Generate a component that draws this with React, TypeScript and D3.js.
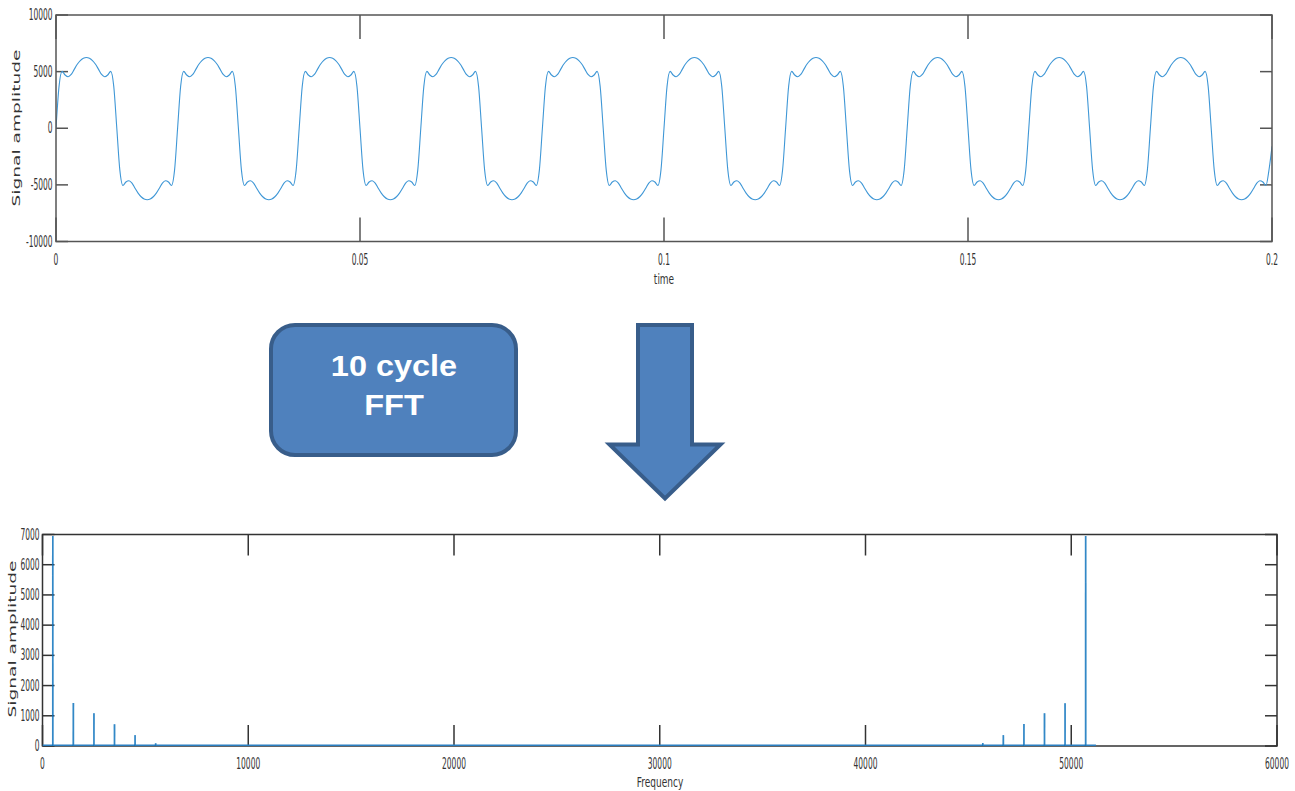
import React from "react";
import * as d3 from "d3";

// ---------- DATA ----------
// one period (20 ms) of the signal, sampled every 0.5 ms (values read from the picture)
const cycleStep = 0.0005;
const cycleValues = [
  0, 3700, 5020, 4700, 4550, 4750, 5200, 5650, 5980, 6180,
  6250, 6180, 5980, 5650, 5200, 4750, 4550, 4700, 5020, 3700,
  0, -3700, -5050, -4750, -4640, -4850, -5300, -5730, -6050, -6250,
  -6310, -6250, -6050, -5730, -5300, -4850, -4640, -4750, -5050, -3700,
];
const cycleCount = 10;
const endTime = 0.2;
const endValue = -1600;

const timeTicks = [0, 0.05, 0.1, 0.15, 0.2];
const timeTickLabels = ["0", "0.05", "0.1", "0.15", "0.2"];
const ampTicks = [-10000, -5000, 0, 5000, 10000];

// FFT magnitude spectrum (bin index vs amplitude)
const specFreq = [
  0, 498, 499, 500, 501,
  1498, 1500, 1502,
  2498, 2500, 2502,
  3498, 3500, 3502,
  4498, 4500, 4502,
  5498, 5500, 5502,
  45698, 45700, 45702,
  46698, 46700, 46702,
  47698, 47700, 47702,
  48698, 48700, 48702,
  49698, 49700, 49702,
  50699, 50700, 50701, 50702,
  51200,
];
const specAmp = [
  0, 0, 5650, 6950, 0,
  0, 1420, 0,
  0, 1080, 0,
  0, 720, 0,
  0, 360, 0,
  0, 90, 0,
  0, 100, 0,
  0, 360, 0,
  0, 730, 0,
  0, 1085, 0,
  0, 1415, 0,
  0, 6950, 5400, 0,
  0,
];
const freqTicks = [0, 10000, 20000, 30000, 40000, 50000, 60000];
const specAmpTicks = [0, 1000, 2000, 3000, 4000, 5000, 6000, 7000];

// ---------- LAYOUT ----------
const W = 1295;
const H = 791;
const top = { x0: 56, x1: 1272, y0: 15, y1: 241.5 };
const bot = { x0: 42.5, x1: 1277, y0: 534.5, y1: 746 };

const tickFont = "DejaVu Sans, Verdana, sans-serif";
const textCol = "#333";

function HText({ x, y, children, anchor = "middle", size = 15, sx = 0.5 }: any) {
  return (
    <text
      transform={`translate(${x},${y}) scale(${sx},1)`}
      textAnchor={anchor}
      dominantBaseline="central"
      fontFamily={tickFont}
      fontSize={size}
      fill={textCol}
    >
      {children}
    </text>
  );
}

function VLabel({ x, y, children }: any) {
  return (
    <text
      transform={`translate(${x},${y}) rotate(-90) scale(1,0.52)`}
      textAnchor="middle"
      dominantBaseline="central"
      fontFamily={tickFont}
      fontSize={18.6}
      fill={textCol}
    >
      {children}
    </text>
  );
}

export default function App() {
  // --- top signal ---
  const sigPoints: [number, number][] = [];
  for (let c = 0; c < cycleCount; c++) {
    cycleValues.forEach((v, i) => {
      sigPoints.push([c * cycleValues.length * cycleStep + i * cycleStep, v]);
    });
  }
  sigPoints.push([endTime, endValue]);

  const xT = d3.scaleLinear().domain([0, 0.2]).range([top.x0, top.x1]);
  const yT = d3.scaleLinear().domain([-10000, 10000]).range([top.y1, top.y0]);
  const sigLine = d3
    .line<[number, number]>()
    .x((d) => xT(d[0]))
    .y((d) => yT(d[1]))
    .curve(d3.curveMonotoneX);

  // --- bottom spectrum ---
  const xB = d3.scaleLinear().domain([0, 60000]).range([bot.x0, bot.x1]);
  const yB = d3.scaleLinear().domain([0, 7000]).range([bot.y1, bot.y0]);
  const specPts: [number, number][] = specFreq.map((f, i) => [f, specAmp[i]]);
  const segs = d3.pairs(specPts);

  const topAxisCol = "#555";
  const botAxisCol = "#333";

  return (
    <svg
      width={W}
      height={H}
      style={{ position: "absolute", left: 0, top: 0, background: "#fff" }}
    >
      <defs>
        <clipPath id="clipTop">
          <rect x={top.x0} y={top.y0} width={top.x1 - top.x0} height={top.y1 - top.y0} />
        </clipPath>
        <clipPath id="clipBot">
          <rect x={bot.x0} y={bot.y0 - 1} width={bot.x1 - bot.x0} height={bot.y1 - bot.y0 + 1} />
        </clipPath>
      </defs>
      <rect x={0} y={0} width={W} height={H} fill="#fff" />

      {/* ===== TOP CHART ===== */}
      <g>
        {timeTicks.map((t, i) => (
          <g key={"tx" + i}>
            <line x1={xT(t)} x2={xT(t)} y1={top.y0} y2={top.y0 + 24} stroke={topAxisCol} strokeWidth={1.5} />
            <line x1={xT(t)} x2={xT(t)} y1={top.y1} y2={top.y1 - 24} stroke={topAxisCol} strokeWidth={1.5} />
            <HText x={xT(t)} y={top.y1 + 18.5}>{timeTickLabels[i]}</HText>
          </g>
        ))}
        {ampTicks.map((v, i) => (
          <g key={"ty" + i}>
            <line x1={top.x0} x2={top.x0 + 12} y1={yT(v)} y2={yT(v)} stroke={topAxisCol} strokeWidth={1.5} />
            <line x1={top.x1} x2={top.x1 - 12} y1={yT(v)} y2={yT(v)} stroke={topAxisCol} strokeWidth={1.5} />
            <HText x={top.x0 - 3.5} y={yT(v)} anchor="end">{String(v)}</HText>
          </g>
        ))}
        <path d={sigLine(sigPoints) || ""} fill="none" stroke="#3f97d6" strokeWidth={1.1} clipPath="url(#clipTop)" />
        <rect
          x={top.x0}
          y={top.y0}
          width={top.x1 - top.x0}
          height={top.y1 - top.y0}
          fill="none"
          stroke={topAxisCol}
          strokeWidth={1.5}
        />
        <HText x={664} y={279} sx={0.62} size={14.5}>time</HText>
        <VLabel x={16} y={128}>Signal amplitude</VLabel>
      </g>

      {/* ===== BOX + ARROW ===== */}
      <rect x={271} y={325} width={245} height={130} rx={24} ry={24} fill="#4f81bd" stroke="#385d8a" strokeWidth={4} />
      <text
        transform="translate(394,375.5) scale(1.12,1)"
        textAnchor="middle"
        fontFamily="Liberation Sans, Arial, sans-serif"
        fontWeight="bold"
        fontSize={29}
        fill="#fff"
      >
        10 cycle
      </text>
      <text
        transform="translate(394,415) scale(1.12,1)"
        textAnchor="middle"
        fontFamily="Liberation Sans, Arial, sans-serif"
        fontWeight="bold"
        fontSize={29}
        fill="#fff"
      >
        FFT
      </text>
      <path
        d="M638,325 L692,325 L692,444.5 L720.5,444.5 L665,498.5 L609.5,444.5 L638,444.5 Z"
        fill="#4f81bd"
        stroke="#385d8a"
        strokeWidth={4}
        strokeLinejoin="miter"
      />

      {/* ===== BOTTOM CHART ===== */}
      <g>
        {freqTicks.map((f, i) => (
          <g key={"bx" + i}>
            <line x1={xB(f)} x2={xB(f)} y1={bot.y0} y2={bot.y0 + 21} stroke={botAxisCol} strokeWidth={1.5} />
            <line x1={xB(f)} x2={xB(f)} y1={bot.y1} y2={bot.y1 - 21} stroke={botAxisCol} strokeWidth={1.5} />
            <HText x={xB(f)} y={bot.y1 + 18}>{String(f)}</HText>
          </g>
        ))}
        {specAmpTicks.map((v, i) => (
          <g key={"by" + i}>
            <line x1={bot.x0} x2={bot.x0 + 12} y1={yB(v)} y2={yB(v)} stroke={botAxisCol} strokeWidth={1.5} />
            <line x1={bot.x1} x2={bot.x1 - 12} y1={yB(v)} y2={yB(v)} stroke={botAxisCol} strokeWidth={1.5} />
            <HText x={bot.x0 - 3} y={yB(v)} anchor="end">{String(v)}</HText>
          </g>
        ))}
        <rect
          x={bot.x0}
          y={bot.y0}
          width={bot.x1 - bot.x0}
          height={bot.y1 - bot.y0}
          fill="none"
          stroke={botAxisCol}
          strokeWidth={1.5}
        />
        <g clipPath="url(#clipBot)">
          {segs.map(([a, b], i) => (
            <line
              key={"s" + i}
              x1={xB(a[0])}
              y1={yB(a[1]) - (a[1] === 0 && b[1] === 0 ? 0.5 : 0)}
              x2={xB(b[0])}
              y2={yB(b[1]) - (a[1] === 0 && b[1] === 0 ? 0.5 : 0)}
              stroke={a[1] === 0 && b[1] === 0 ? "#2a7fc2" : "#0b72bd"}
              strokeOpacity={a[1] === 0 && b[1] === 0 ? 1 : 0.6}
              strokeWidth={a[1] === 0 && b[1] === 0 ? 2.2 : 1.6}
            />
          ))}
        </g>
        <HText x={660} y={782} sx={0.62} size={14.5}>Frequency</HText>
        <VLabel x={12} y={639}>Signal amplitude</VLabel>
      </g>
    </svg>
  );
}
